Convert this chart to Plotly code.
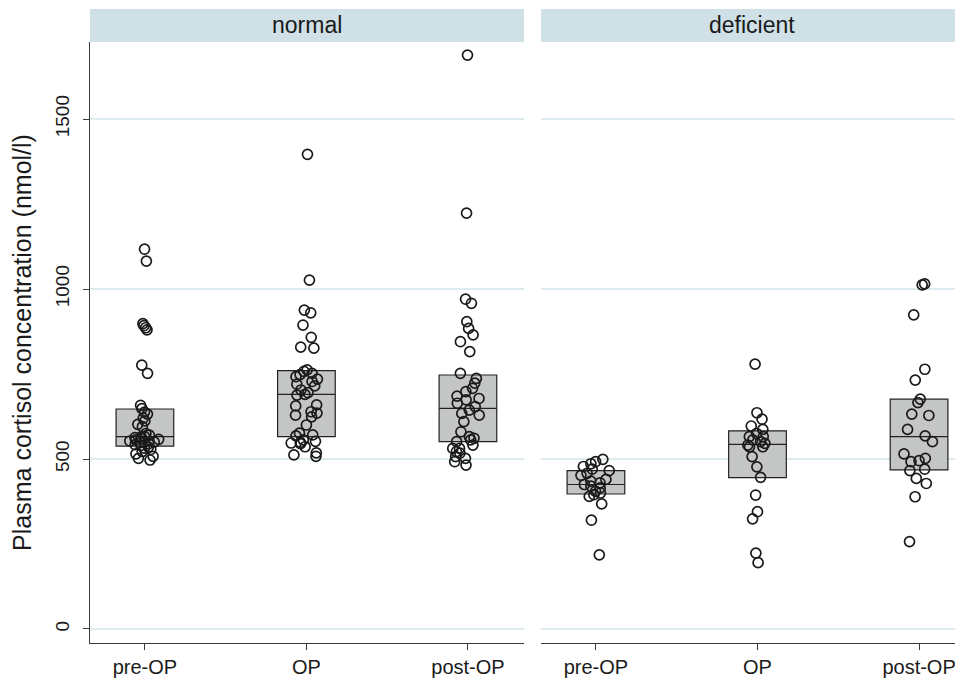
import plotly.graph_objects as go

categories = ["pre-OP", "OP", "post-OP"]
panels = ["normal", "deficient"]

normal_pre = [1117, 1082, 898, 892, 886, 880, 776, 752,
              658, 648, 638, 632, 620, 612, 602, 595, 575, 570,
              566, 565, 563, 560, 558, 556, 553, 550, 548, 545, 542, 540,
              535, 532, 528, 522, 515, 508, 502, 497]
normal_op = [1396, 1026, 938, 930, 894, 858, 829, 826, 762, 758, 752, 748, 742,
             735, 728, 720, 715, 703, 695, 690, 688, 659, 656, 639, 635, 629,
             624, 600, 576, 571, 568, 556, 552, 549, 547, 545, 536, 518, 512, 508]
normal_post = [1688, 1223, 970, 958, 904, 884, 865, 845, 816, 752, 737, 723,
               708, 698, 685, 678, 674, 664, 654, 644, 634, 629, 610, 580, 566,
               561, 556, 551, 541, 531, 531, 522, 517, 507, 502, 492, 482]
deficient_pre = [499, 492, 486, 478, 470, 466, 458, 452, 440, 435, 430, 425,
                 420, 415, 405, 400, 395, 390, 368, 320, 218]
deficient_op = [779, 636, 617, 597, 587, 575, 566, 566, 556, 551, 546, 541,
                536, 536, 507, 477, 446, 394, 345, 324, 223, 195]
deficient_post = [1015, 1012, 924, 764, 732, 676, 666, 632, 628, 587, 568, 551,
                  515, 502, 495, 492, 470, 466, 443, 428, 389, 257]

# box statistics (q1, median, q3)
normal_q1 = [538, 566, 551]
normal_median = [566, 690, 649]
normal_q3 = [647, 760, 747]
deficient_q1 = [397, 445, 468]
deficient_median = [425, 543, 566]
deficient_q3 = [466, 583, 676]

y_ticks = [0, 500, 1000, 1500]
y_title = "Plasma cortisol concentration (nmol/l)"

FONT = "Liberation Sans, Arial, sans-serif"
BOX_FILL = "#c4c6c6"
GRID = "#dcebee"
STRIP = "#cfe0e6"
AXIS = "#3a3a3a"

fig = go.Figure()

panel_data = [
    ("x", "y", [normal_pre, normal_op, normal_post], normal_q1, normal_median, normal_q3),
    ("x2", "y2", [deficient_pre, deficient_op, deficient_post], deficient_q1, deficient_median, deficient_q3),
]

for xa, ya, series, q1, med, q3 in panel_data:
    fig.add_trace(go.Box(
        x=categories, q1=q1, median=med, q3=q3,
        lowerfence=q1, upperfence=q3,
        fillcolor=BOX_FILL, line=dict(color="#222222", width=1.2),
        whiskerwidth=0, boxpoints=False, showlegend=False, hoverinfo="skip",
        xaxis=xa, yaxis=ya,
    ))
    xs, ys = [], []
    for cat, vals in zip(categories, series):
        xs += [cat] * len(vals)
        ys += vals
    fig.add_trace(go.Box(
        x=xs, y=ys, boxpoints="all", jitter=0.55, pointpos=0,
        fillcolor="rgba(0,0,0,0)", line=dict(width=0, color="rgba(0,0,0,0)"),
        marker=dict(symbol="circle-open", size=10, color="#1a1a1a",
                    line=dict(width=1.7, color="#1a1a1a")),
        showlegend=False, xaxis=xa, yaxis=ya,
    ))

yrange = [-41.2, 1726.5]
xaxis_common = dict(
    type="category", categoryorder="array", categoryarray=categories,
    showline=True, linecolor=AXIS, linewidth=1.3, mirror=False,
    ticks="outside", ticklen=6, tickcolor=AXIS, tickwidth=1,
    showgrid=False, zeroline=False, automargin=False,
    tickfont=dict(family=FONT, size=20, color="#1a1a1a"),
)
fig.update_layout(
    width=955, height=671,
    margin=dict(l=82, r=0, t=34, b=36),
    paper_bgcolor="white", plot_bgcolor="white",
    boxmode="overlay", boxgap=0.49,
    font=dict(family=FONT, color="#1a1a1a"),
    xaxis=dict(domain=[0, 0.4971], range=[-0.34, 2.347], anchor="y", **xaxis_common),
    xaxis2=dict(domain=[0.5166, 1], range=[-0.34, 2.272], anchor="y2", **xaxis_common),
    yaxis=dict(
        range=yrange, tickvals=y_ticks, ticktext=[str(v) for v in y_ticks],
        showline=True, linecolor=AXIS, linewidth=1.3, automargin=False,
        ticks="outside", ticklen=6, tickcolor=AXIS, tickwidth=1,
        tickangle=-90, tickfont=dict(family=FONT, size=19, color="#1a1a1a"),
        ticklabelstandoff=6,
        showgrid=True, gridcolor=GRID, gridwidth=1.5, zeroline=False,
        title=dict(text=y_title, font=dict(family=FONT, size=25, color="#1a1a1a"), standoff=13),
        anchor="x",
    ),
    yaxis2=dict(
        range=yrange, tickvals=y_ticks, showticklabels=False,
        showline=False, ticks="", automargin=False,
        showgrid=True, gridcolor=GRID, gridwidth=1.5, zeroline=False,
        anchor="x2", matches="y",
    ),
)

for xa, name in zip(["x", "x2"], panels):
    fig.add_shape(type="rect", xref=f"{xa} domain", yref="paper",
                  x0=0, x1=1, y0=1.0, y1=1.0549,
                  fillcolor=STRIP, line=dict(width=0), layer="below")
    fig.add_annotation(xref=f"{xa} domain", yref="paper", x=0.5, y=1.0275,
                       text=name, showarrow=False,
                       font=dict(family=FONT, size=23, color="#1a1a1a"),
                       xanchor="center", yanchor="middle")

fig.write_html("out.html")
